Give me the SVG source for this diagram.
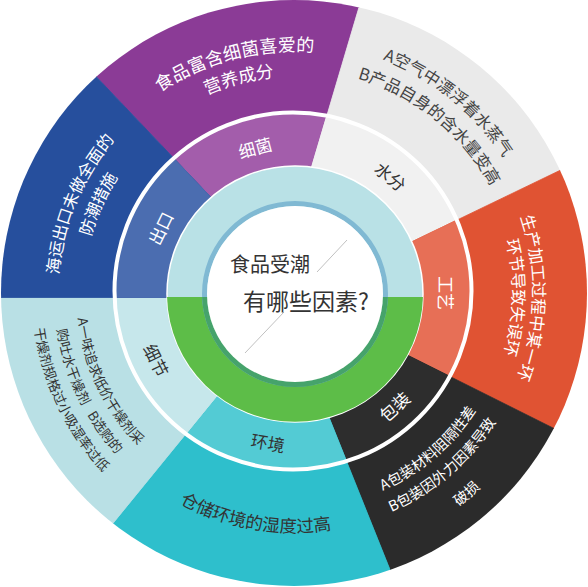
<svg xmlns="http://www.w3.org/2000/svg" width="588" height="587" viewBox="0 0 588 587">
<style>
  text { font-family: "Noto Sans CJK SC", "Noto Sans", sans-serif; }
  .w { fill: #ffffff; }
  .d { fill: #333333; }
  .g { fill: #444444; }
  .m { font-size: 17px; text-anchor: middle; dominant-baseline: central; }
  .tp { text-anchor: middle; }
</style>
<defs>
  <clipPath id="co"><circle cx="294" cy="293" r="293"/></clipPath>
  <clipPath id="cm"><circle cx="293" cy="291" r="177"/></clipPath>
  <polygon id="wPurple" points="294,293 223,210 69,48 190,-95 370,-30 306,186"/>
  <polygon id="wGrey" points="294,293 306,186 370,-30 564,-29 596,153 395.5,249.7"/>
  <polygon id="wOrange" points="294,293 395.5,249.7 596,153 640,300 591,447 390,346.5"/>
  <polygon id="wBlack" points="294,293 390,346.5 591,447 564,615 405,607 322,400"/>
  <polygon id="wTeal" points="294,293 322,400 405,607 221,707 88,554 229,381"/>
  <polygon id="wLb" points="294,293 229,381 88,554 -87,470 -40,297.5 184,297.5"/>
  <polygon id="wBlue" points="294,293 184,297.5 -40,297.5 -87,115 69,48 223,210"/>
  <path id="aP1" d="M53.61,269.85 A241.5,241.5 0 0 1 493.03,156.21"/>
  <path id="aP2" d="M78.5,272.25 A216.5,216.5 0 0 1 472.42,170.37"/>
  <path id="aG1" d="M165.4,78.96 A249.7,249.7 0 0 1 530.1,374.3"/>
  <path id="aG2" d="M178.79,101.25 A223.7,223.7 0 0 1 505.51,365.83"/>
  <path id="aO1" d="M380.32,70.46 A238.7,238.7 0 0 1 370.93,518.97"/>
  <path id="aO2" d="M372.98,89.38 A218.4,218.4 0 0 1 364.38,499.75"/>
  <path id="aB1" d="M134.76,466.78 A235.7,235.7 0 0 1 304.28,57.52"/>
  <path id="aB2" d="M146.58,443.54 A210.7,210.7 0 0 1 310.16,82.92"/>
  <path id="aK1" d="M187.95,481.98 A216.7,216.7 0 0 0 496.71,216.4"/>
  <path id="aK2" d="M176.7,502.04 A239.7,239.7 0 0 0 518.22,208.27"/>
  <path id="aK3" d="M162.01,528.2 A269.7,269.7 0 0 0 546.29,197.67"/>
  <path id="aT1" d="M58.28,335.41 A239.5,239.5 0 0 0 501.86,412.02"/>
  <path id="aL1" d="M138.51,140.2 A218,218 0 0 0 314.9,510.0"/>
  <path id="aL2" d="M122.82,124.78 A240,240 0 0 0 317.0,531.9"/>
  <path id="aL3" d="M107.13,109.36 A262,262 0 0 0 319.11,553.79"/>
</defs>

<g id="bacteria">
  <use href="#wPurple" fill="#8b3b96" stroke="#8b3b96" stroke-width="0.8" clip-path="url(#co)"/>
  <use href="#wPurple" fill="#a35dab" stroke="#a35dab" stroke-width="0.8" clip-path="url(#cm)"/>
  <text class="w" font-size="18"><textPath href="#aP1" startOffset="50%" class="tp">食品富含细菌喜爱的</textPath></text>
  <text class="w" font-size="17.5"><textPath href="#aP2" startOffset="50%" class="tp">营养成分</textPath></text>
</g>
<g id="moisture">
  <use href="#wGrey" fill="#eaeaea" stroke="#eaeaea" stroke-width="0.8" clip-path="url(#co)"/>
  <use href="#wGrey" fill="#f1f1f1" stroke="#f1f1f1" stroke-width="0.8" clip-path="url(#cm)"/>
  <text class="g" font-size="16.5"><textPath href="#aG1" startOffset="50%" class="tp">A空气中漂浮着水蒸气</textPath></text>
  <text class="g" font-size="16.5"><textPath href="#aG2" startOffset="50%" class="tp">B产品自身的含水量变高</textPath></text>
</g>
<g id="process">
  <use href="#wOrange" fill="#e05333" stroke="#e05333" stroke-width="0.8" clip-path="url(#co)"/>
  <use href="#wOrange" fill="#e76f56" stroke="#e76f56" stroke-width="0.8" clip-path="url(#cm)"/>
  <text class="w" font-size="16.5"><textPath href="#aO1" startOffset="50%" class="tp">生产加工过程中某一环</textPath></text>
  <text class="w" font-size="16.5"><textPath href="#aO2" startOffset="50%" class="tp">环节导致失误环</textPath></text>
</g>
<g id="packaging">
  <use href="#wBlack" fill="#2b2b2b" stroke="#2b2b2b" stroke-width="0.8" clip-path="url(#co)"/>
  <use href="#wBlack" fill="#2d2d2d" stroke="#2d2d2d" stroke-width="0.8" clip-path="url(#cm)"/>
  <text class="w" font-size="14.5"><textPath href="#aK1" startOffset="50%" class="tp">A包装材料阻隔性差</textPath></text>
  <text class="w" font-size="14.5"><textPath href="#aK2" startOffset="50%" class="tp">B包装因外力因素导致</textPath></text>
  <text class="w" font-size="14.5"><textPath href="#aK3" startOffset="50%" class="tp">破损</textPath></text>
</g>
<g id="environment">
  <use href="#wTeal" fill="#2ebfcc" stroke="#2ebfcc" stroke-width="0.8" clip-path="url(#co)"/>
  <use href="#wTeal" fill="#53cbd4" stroke="#53cbd4" stroke-width="0.8" clip-path="url(#cm)"/>
  <text class="d" font-size="17.5"><textPath href="#aT1" startOffset="50%" class="tp">仓储环境的湿度过高</textPath></text>
</g>
<g id="details">
  <use href="#wLb" fill="#b9e0e5" stroke="#b9e0e5" stroke-width="0.8" clip-path="url(#co)"/>
  <use href="#wLb" fill="#c6e7eb" stroke="#c6e7eb" stroke-width="0.8" clip-path="url(#cm)"/>
  <text class="d" font-size="13.5"><textPath href="#aL1" startOffset="50%" class="tp">A一味追求低价干燥剂采</textPath></text>
  <text class="d" font-size="13.5"><textPath href="#aL2" startOffset="50%" class="tp">购吐水干燥剂<tspan dx="10">B选购的</tspan></textPath></text>
  <text class="d" font-size="13.5"><textPath href="#aL3" startOffset="50%" class="tp">干燥剂规格过小吸湿率过低</textPath></text>
</g>
<g id="export">
  <use href="#wBlue" fill="#264f9d" stroke="#264f9d" stroke-width="0.8" clip-path="url(#co)"/>
  <use href="#wBlue" fill="#4b6db0" stroke="#4b6db0" stroke-width="0.8" clip-path="url(#cm)"/>
  <text class="w" font-size="16.5"><textPath href="#aB1" startOffset="50%" class="tp">海运出口未做全面的</textPath></text>
  <text class="w" font-size="16.5"><textPath href="#aB2" startOffset="50%" class="tp">防潮措施</textPath></text>
</g>

<circle cx="293" cy="291" r="178.5" fill="none" stroke="#ffffff" stroke-width="4"/>

<g id="ring-labels">
  <text class="m w" transform="translate(255,147) rotate(-15)">细菌</text>
  <text class="m d" transform="translate(391,176) rotate(39.5)">水分</text>
  <text class="m w" transform="translate(446,293) rotate(90)">工艺</text>
  <text class="m w" transform="translate(394,406) rotate(-42)">包装</text>
  <text class="m d" transform="translate(268,442) rotate(10)">环境</text>
  <text class="m d" transform="translate(157,360) rotate(64)">细节</text>
  <text class="m w" transform="translate(160,228) rotate(-64)">出口</text>
</g>

<g id="center">
  <circle cx="295" cy="294" r="128" fill="#b9e1e6" stroke="#ffffff" stroke-width="1.5"/>
  <path d="M167.04,297 A128,128 0 0 0 422.96,297 Z" fill="#5dbd48"/>
  <circle cx="295" cy="294" r="90.5" fill="none" stroke="#80b9d3" stroke-width="5"/>
  <path d="M204.55,297 A90.5,90.5 0 0 0 385.45,297" fill="none" stroke="#46a36b" stroke-width="5"/>
  <circle cx="295" cy="294" r="88" fill="#ffffff"/>
  <line x1="347" y1="240" x2="317" y2="272" stroke="#c0c0c0" stroke-width="1"/>
  <line x1="284" y1="312" x2="245" y2="353" stroke="#c0c0c0" stroke-width="1"/>
  <text class="d" x="230" y="272" font-size="20">食品受潮</text>
  <text class="d" x="243" y="310" font-size="23">有哪些因素?</text>
</g>
</svg>
